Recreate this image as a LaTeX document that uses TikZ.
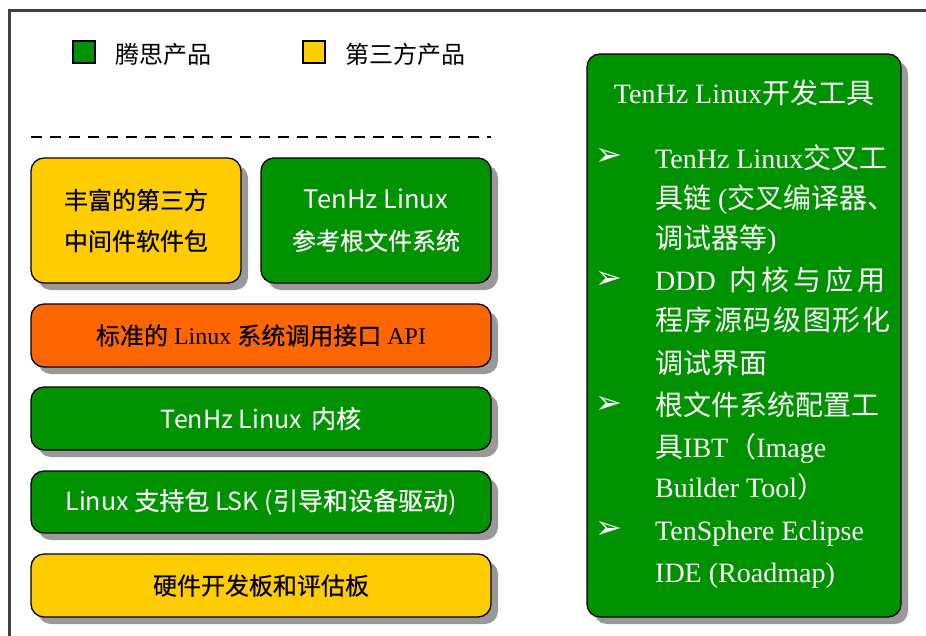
\documentclass[tikz,border=0pt]{standalone}
\usepackage{fontspec}
\setmainfont{Liberation Serif}
\newfontfamily\cjk{Noto Sans CJK SC}
\newfontfamily\cjkb[FakeBold=0.45]{Noto Sans CJK SC}
\newfontfamily\symf{DejaVu Sans}
\usetikzlibrary{shadows}
\definecolor{tgreen}{RGB}{0,146,0}
\definecolor{tyellow}{RGB}{255,204,0}
\definecolor{torange}{RGB}{255,102,0}
\definecolor{tshadow}{RGB}{153,153,153}
\definecolor{tframe}{RGB}{64,64,64}
\newcommand\gp{\hspace{1.6pt}}
\newcommand\gq{\hspace{4pt}}
\begin{document}
\begin{tikzpicture}[x=1pt,y=-1pt,
  layer/.style={draw=black, line width=1.3pt, rounded corners=13pt, inner sep=0pt, align=center,
    drop shadow={shadow xshift=7pt, shadow yshift=-7pt, fill=tshadow, opacity=1}},
  legbox/.style={draw=black, line width=1.3pt, minimum size=22pt, inner sep=0pt},
  legtext/.style={anchor=west, inner sep=0pt, font=\cjk\fontsize{24}{28}\selectfont},
  big/.style={font=\fontsize{24}{41}\selectfont},
  bigl/.style={font=\fontsize{25}{41}\selectfont},
  tline/.style={anchor=base west, inner sep=0pt, text=white, font=\fontsize{28}{34}\selectfont},
  bullet/.style={inner sep=0pt, text=white, font=\symf\fontsize{32}{34}\selectfont}]
\useasboundingbox (0,0) rectangle (926,635);
\fill[white] (0,0) rectangle (926,635);
\draw[tframe, line width=3pt] (9.5,10.5) rectangle (980,700);

% legend
\node[legbox, fill=tgreen] (lg) at (84,52) {};
\node[legtext] (lgt) at (115,54) {腾思产品};
\node[legbox, fill=tyellow] (ly) at (314,52) {};
\node[legtext] (lyt) at (345,54) {第三方产品};

% dashed separator
\coordinate (d1) at (31,137);
\coordinate (d2) at (491,137);
\draw[line width=2pt, dash pattern=on 11pt off 8pt] (d1) -- (d2);

% stack
\node[layer, fill=tyellow, minimum width=210pt, minimum height=125pt, big] (mw) at (136,220.5)
  {\cjkb 丰富的第三方\\\cjkb 中间件软件包};
\node[layer, fill=tgreen, text=white, minimum width=230pt, minimum height=125pt, big] (rfs) at (376,220.5)
  {\cjk\fontsize{25.5}{41}\selectfont TenHz Linux\\\cjkb 参考根文件系统};
\node[layer, fill=torange, minimum width=460pt, minimum height=63pt, big] (api) at (261,335.5)
  {{\cjkb 标准的} Linux {\cjkb 系统调用接口} API};
\node[layer, fill=tgreen, text=white, minimum width=460pt, minimum height=63pt, bigl] (kern) at (261,418.5)
  {\cjk TenHz Linux\hspace{9pt}{\cjkb 内核}};
\node[layer, fill=tgreen, text=white, minimum width=460pt, minimum height=62pt, bigl] (lsk) at (261,502)
  {\cjk Linux {\cjkb 支持包} LSK ({\cjkb 引导和设备驱动})};
\node[layer, fill=tyellow, minimum width=460pt, minimum height=63pt, big] (hw) at (261,585.5)
  {\cjkb 硬件开发板和评估板};

% tools box
\node[layer, fill=tgreen, minimum width=314pt, minimum height=563pt] (tools) at (744,335.5) {};
\node[tline, anchor=base] (tt) at (744,103) {TenHz Linux{\cjk 开发工具}};

\node[bullet] (b1) at (609,157) {➢};
\node[bullet] (b2) at (609,280) {➢};
\node[bullet] (b3) at (609,405) {➢};
\node[bullet] (b4) at (609,530) {➢};

\node[tline] (l1) at (655,168) {TenHz Linux{\cjk 交叉工}};
\node[tline] (l2) at (655,208) {{\cjk 具链} ({\cjk 交叉编译器、}};
\node[tline] (l3) at (655,248) {{\cjk 调试器等})};
\node[tline] (l4) at (655,290) {DDD\hspace{14pt}{\cjk 内\gq 核\gq 与\gq 应\gq 用}};
\node[tline] (l5) at (655,330) {\cjk 程\gp 序\gp 源\gp 码\gp 级\gp 图\gp 形\gp 化};
\node[tline] (l6) at (655,373) {\cjk 调试界面};
\node[tline] (l7) at (655,415) {\cjk 根文件系统配置工};
\node[tline] (l8) at (655,457) {{\cjk 具}IBT{\cjk （}Image};
\node[tline] (l9) at (655,497) {Builder Tool{\cjk ）}};
\node[tline] (l10) at (655,540) {TenSphere Eclipse};
\node[tline] (l11) at (655,582) {IDE (Roadmap)};
\end{tikzpicture}
\end{document}
